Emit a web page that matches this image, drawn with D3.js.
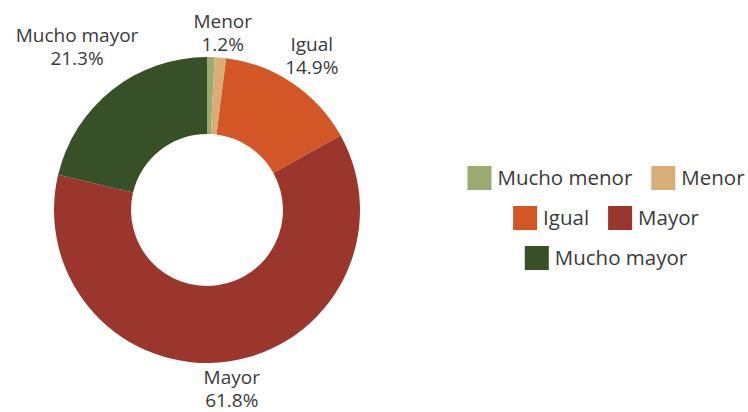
<!DOCTYPE html>
<html>
<head>
<meta charset="utf-8">
<script src="https://cdn.jsdelivr.net/npm/d3@7"></script>
<style>
	body { margin: 0; background: #fff; }
	svg text { font-family: "Open Sans", sans-serif; fill: #3a3a3a; }
</style>
</head>
<body>
<svg width="748" height="412"></svg>
<script>
const categories = ["Mucho menor", "Menor", "Igual", "Mayor", "Mucho mayor"]
const values     = [0.8, 1.2, 14.9, 61.8, 21.3]
const colors     = ["#9aab71", "#d8ad76", "#d35627", "#9b362c", "#375027"]

const CX = 207, CY = 210
const OUTER = 153, INNER = 76
const LABEL_GAP = 155
const LABEL_SIZE = 19, LEGEND_SIZE = 20.5

const svg = d3.select("svg")
const color = d3.scaleOrdinal().domain(categories).range(colors)
const fmt = d3.format(".1f")

const rows = categories.map((c, i) => ({ name: c, value: values[i] }))
const pie = d3.pie().sort(null).value(d => d.value)
const arc = d3.arc().innerRadius(INNER).outerRadius(OUTER)

const chart = svg.append("g").attr("transform", `translate(${CX},${CY})`)

chart.selectAll("path")
	.data(pie(rows))
	.join("path")
	.attr("d", arc)
	.attr("fill", d => color(d.data.name))

// labels: box pushed out until it clears a circle of radius LABEL_GAP
pie(rows).filter(d => d.data.value >= 1).forEach(d => {
	const a = (d.startAngle + d.endAngle) / 2
	const s = Math.sin(a), c = -Math.cos(a)
	const g = chart.append("g")
	const t1 = g.append("text").attr("text-anchor", "middle").attr("font-size", LABEL_SIZE).text(d.data.name)
	const t2 = g.append("text").attr("text-anchor", "middle").attr("font-size", LABEL_SIZE).text(fmt(d.data.value) + "%")
	const hw = Math.max(t1.node().getComputedTextLength(), t2.node().getComputedTextLength()) / 2
	const hh = 21
	const dist = LABEL_GAP + Math.abs(hw * s) + Math.abs(hh * c)
	const x = s * dist, y = c * dist
	t1.attr("x", x).attr("y", y - 4)
	t2.attr("x", x).attr("y", y + 19)
})

// legend, centred flow layout
const LEG_CX = 606, LEG_TOP = 178, ROW_H = 40, MAX_W = 290
const SW = 24, SW_GAP = 6, ITEM_GAP = 19

const legend = svg.append("g")
const items = categories.map(name => {
	const g = legend.append("g")
	g.append("rect").attr("width", SW).attr("height", SW).attr("y", -SW / 2).attr("fill", color(name))
	const t = g.append("text").attr("x", SW + SW_GAP).attr("dy", "0.35em").attr("font-size", LEGEND_SIZE).text(name)
	return { g, w: SW + SW_GAP + t.node().getComputedTextLength() }
})

const lines = [[]]
let cur = 0
items.forEach(it => {
	const add = lines[lines.length - 1].length ? ITEM_GAP + it.w : it.w
	if (cur + add > MAX_W && lines[lines.length - 1].length) {
		lines.push([it]); cur = it.w
	} else {
		lines[lines.length - 1].push(it); cur += add
	}
})

lines.forEach((line, r) => {
	const total = d3.sum(line, it => it.w) + ITEM_GAP * (line.length - 1)
	let x = LEG_CX - total / 2
	line.forEach(it => {
		it.g.attr("transform", `translate(${x},${LEG_TOP + r * ROW_H})`)
		x += it.w + ITEM_GAP
	})
})
</script>
</body>
</html>
